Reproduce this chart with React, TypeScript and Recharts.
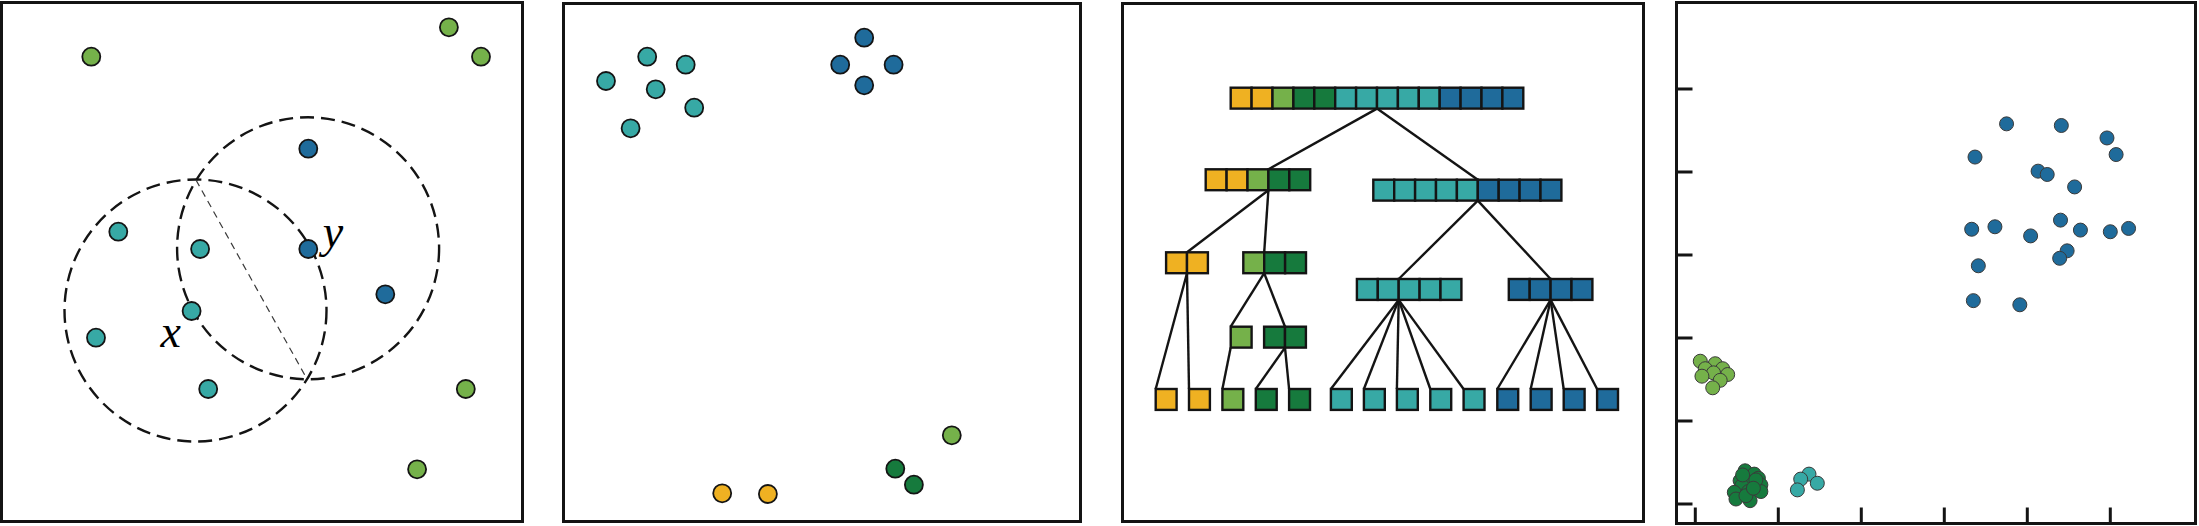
import React from 'react';
import { ScatterChart, Scatter, XAxis, YAxis } from 'recharts';

// ---------- palette keys ----------
const COLORS: Record<string, string> = {
  Y: '#EFB122',
  LG: '#75B14A',
  DG: '#167A3D',
  T: '#37A9A5',
  B: '#1F6B9B',
};
const INK = '#141414';

// ---------- panel A : neighbourhood illustration (panel-local units) ----------
const panelAGreen = [
  { x: 91.3, y: 55.7 }, { x: 448.9, y: 26.3 }, { x: 481.0, y: 55.7 },
  { x: 465.8, y: 388 }, { x: 417.1, y: 468.3 },
];
const panelATeal = [
  { x: 118.3, y: 230.7 }, { x: 200.1, y: 248 }, { x: 191.6, y: 310 },
  { x: 96.0, y: 336.7 }, { x: 208.2, y: 388 },
];
const panelABlue = [
  { x: 308.3, y: 147.7 }, { x: 308.3, y: 248 }, { x: 385.3, y: 293.3 },
];
const panelARings = [
  { x: 195.5, y: 309.5, r: 131 },
  { x: 308.1, y: 247.3, r: 131 },
];
const panelAChord = [{ x: 196, y: 179 }, { x: 306.6, y: 377.3 }];
const panelALabels = [
  { x: 170.7, y: 345.7, text: 'x' },
  { x: 333, y: 246, text: 'y' },
];

// ---------- panel B : clustered points ----------
const panelBTeal = [
  { x: 85.2, y: 54.7 }, { x: 123.7, y: 62.7 }, { x: 44.0, y: 79 },
  { x: 93.7, y: 87.3 }, { x: 132.2, y: 105.7 }, { x: 68.6, y: 126.3 },
];
const panelBBlue = [
  { x: 302.2, y: 35.7 }, { x: 278.2, y: 62.7 }, { x: 331.6, y: 62.7 }, { x: 302.2, y: 83.3 },
];
const panelBLightGreen = [{ x: 389.8, y: 433.3 }];
const panelBDarkGreen = [{ x: 333.3, y: 466.7 }, { x: 351.9, y: 482.7 }];
const panelBYellow = [{ x: 160.2, y: 491.3 }, { x: 205.9, y: 492 }];

// ---------- panel C : hierarchy tree ----------
const CELL = 20.9;
const treeNodes = [
  { id: 'root', x: 109.7, y: 85.7, split: 7, colors: ['Y', 'Y', 'LG', 'DG', 'DG', 'T', 'T', 'T', 'T', 'T', 'B', 'B', 'B', 'B'] },
  { id: 'L', x: 84.7, y: 167.3, split: 3, colors: ['Y', 'Y', 'LG', 'DG', 'DG'] },
  { id: 'R', x: 252.3, y: 177.7, split: 5, colors: ['T', 'T', 'T', 'T', 'T', 'B', 'B', 'B', 'B'] },
  { id: 'LY', x: 45.1, y: 250.3, split: 1, colors: ['Y', 'Y'] },
  { id: 'LG', x: 122.3, y: 250.3, split: 1, colors: ['LG', 'DG', 'DG'] },
  { id: 'RT', x: 235.9, y: 277, split: 2, colors: ['T', 'T', 'T', 'T', 'T'] },
  { id: 'RB', x: 387.8, y: 277, split: 2, colors: ['B', 'B', 'B', 'B'] },
  { id: 'LGa', x: 109.7, y: 324.7, split: 0, colors: ['LG'] },
  { id: 'LGb', x: 143.1, y: 324.7, split: 1, colors: ['DG', 'DG'] },
];
const leafX = [34.7, 68, 101.4, 134.8, 168.1, 209.9, 242.9, 275.9, 309.3, 342.6, 376.3, 409.7, 442.7, 476.1];
const leafColors = ['Y', 'Y', 'LG', 'DG', 'DG', 'T', 'T', 'T', 'T', 'T', 'B', 'B', 'B', 'B'];
const leafY = 387;
const treeEdges: [string, string][] = [
  ['root', 'L'], ['root', 'R'],
  ['L', 'LY'], ['L', 'LG'],
  ['R', 'RT'], ['R', 'RB'],
  ['LY', 'f0'], ['LY', 'f1'],
  ['LG', 'LGa'], ['LG', 'LGb'],
  ['LGa', 'f2'], ['LGb', 'f3'], ['LGb', 'f4'],
  ['RT', 'f5'], ['RT', 'f6'], ['RT', 'f7'], ['RT', 'f8'], ['RT', 'f9'],
  ['RB', 'f10'], ['RB', 'f11'], ['RB', 'f12'], ['RB', 'f13'],
];

// ---------- panel D : embedding scatter (axis units) ----------
const panelDTicks = [0, 1, 2, 3, 4, 5];
const panelDBlue = [
  { x: 3.75, y: 4.58 }, { x: 4.41, y: 4.56 }, { x: 4.96, y: 4.41 }, { x: 3.37, y: 4.18 },
  { x: 5.07, y: 4.21 }, { x: 4.13, y: 4.01 }, { x: 4.24, y: 3.97 }, { x: 4.57, y: 3.82 },
  { x: 4.40, y: 3.42 }, { x: 3.33, y: 3.31 }, { x: 3.61, y: 3.34 }, { x: 4.04, y: 3.23 },
  { x: 4.64, y: 3.30 }, { x: 5.00, y: 3.28 }, { x: 5.22, y: 3.32 }, { x: 4.48, y: 3.05 },
  { x: 4.39, y: 2.96 }, { x: 3.41, y: 2.87 }, { x: 3.35, y: 2.45 }, { x: 3.91, y: 2.40 },
];
const panelDLightGreen = [
  { x: 0.06, y: 1.72 }, { x: 0.24, y: 1.69 }, { x: 0.12, y: 1.63 }, { x: 0.33, y: 1.63 },
  { x: 0.22, y: 1.58 }, { x: 0.39, y: 1.56 }, { x: 0.08, y: 1.54 }, { x: 0.30, y: 1.49 },
  { x: 0.21, y: 1.40 },
];
const panelDDarkGreen = [
  { x: 0.60, y: 0.40 }, { x: 0.71, y: 0.36 }, { x: 0.76, y: 0.31 }, { x: 0.54, y: 0.28 },
  { x: 0.67, y: 0.25 }, { x: 0.79, y: 0.23 }, { x: 0.56, y: 0.22 }, { x: 0.64, y: 0.15 },
  { x: 0.47, y: 0.14 }, { x: 0.79, y: 0.15 }, { x: 0.49, y: 0.06 }, { x: 0.66, y: 0.04 },
  { x: 0.61, y: 0.10 }, { x: 0.73, y: 0.29 }, { x: 0.57, y: 0.35 }, { x: 0.70, y: 0.19 },
];
const panelDTeal = [
  { x: 1.37, y: 0.36 }, { x: 1.27, y: 0.30 }, { x: 1.47, y: 0.25 }, { x: 1.23, y: 0.17 },
];

// ---------- frames ----------
const FRAMES = [
  { left: 0, top: 1, width: 524, height: 522 },
  { left: 562, top: 2, width: 520, height: 521 },
  { left: 1121, top: 2, width: 524, height: 521 },
  { left: 1675, top: 1, width: 522, height: 524 },
];
const BORDER = 3;
const TICK_LEN = 16;

// ---------- shapes ----------
const dotShape = (r: number, stroke: string, sw: number) => (p: any) => (
  <circle cx={p.cx} cy={p.cy} r={r} fill={p.fill} stroke={stroke} strokeWidth={sw} />
);
const ringShape = (p: any) => (
  <circle cx={p.cx} cy={p.cy} r={p.payload.r} fill="none" stroke={INK} strokeWidth={2.4} strokeDasharray="14 7" />
);
const labelShape = (p: any) => (
  <text x={p.cx} y={p.cy} textAnchor="middle" fontFamily="'Liberation Serif', 'DejaVu Serif', serif" fontStyle="italic" fontSize={46} fill="#000">
    {p.payload.text}
  </text>
);
const cellShape = (p: any) => (
  <rect x={p.cx - CELL / 2} y={p.cy - CELL / 2} width={CELL} height={CELL} fill={COLORS[p.payload.c]} stroke={INK} strokeWidth={2.4} />
);
const noShape = () => <g />;

function Frame({ f }: { f: { left: number; top: number; width: number; height: number } }) {
  return (
    <div
      style={{
        position: 'absolute', left: 0, top: 0, width: f.width, height: f.height,
        border: `${BORDER}px solid ${INK}`, boxSizing: 'border-box', pointerEvents: 'none',
      }}
    />
  );
}

function localAxes(w: number, h: number) {
  return [
    <XAxis key="x" type="number" dataKey="x" domain={[0, w]} hide allowDataOverflow />,
    <YAxis key="y" type="number" dataKey="y" domain={[0, h]} reversed hide allowDataOverflow />,
  ];
}

function PanelA() {
  const f = FRAMES[0];
  return (
    <div style={{ position: 'absolute', left: f.left, top: f.top, width: f.width, height: f.height }}>
      <ScatterChart width={f.width} height={f.height} margin={{ top: 0, right: 0, bottom: 0, left: 0 }}>
        {localAxes(f.width, f.height)}
        <Scatter data={panelARings} shape={ringShape} isAnimationActive={false} />
        <Scatter data={panelAChord} shape={noShape} line={{ stroke: '#3a3a3a', strokeWidth: 1.2, strokeDasharray: '7 5' }} isAnimationActive={false} />
        <Scatter data={panelAGreen} fill={COLORS.LG} shape={dotShape(9, INK, 1.8)} isAnimationActive={false} />
        <Scatter data={panelATeal} fill={COLORS.T} shape={dotShape(9, INK, 1.8)} isAnimationActive={false} />
        <Scatter data={panelABlue} fill={COLORS.B} shape={dotShape(9, INK, 1.8)} isAnimationActive={false} />
        <Scatter data={panelALabels} shape={labelShape} isAnimationActive={false} />
      </ScatterChart>
      <Frame f={f} />
    </div>
  );
}

function PanelB() {
  const f = FRAMES[1];
  const groups = [
    { d: panelBTeal, c: COLORS.T },
    { d: panelBBlue, c: COLORS.B },
    { d: panelBLightGreen, c: COLORS.LG },
    { d: panelBDarkGreen, c: COLORS.DG },
    { d: panelBYellow, c: COLORS.Y },
  ];
  return (
    <div style={{ position: 'absolute', left: f.left, top: f.top, width: f.width, height: f.height }}>
      <ScatterChart width={f.width} height={f.height} margin={{ top: 0, right: 0, bottom: 0, left: 0 }}>
        {localAxes(f.width, f.height)}
        {groups.map((g, i) => (
          <Scatter key={i} data={g.d} fill={g.c} shape={dotShape(9, INK, 1.8)} isAnimationActive={false} />
        ))}
      </ScatterChart>
      <Frame f={f} />
    </div>
  );
}

function PanelC() {
  const f = FRAMES[2];
  const nodes: Record<string, { x: number; y: number; split: number; colors: string[] }> = {};
  treeNodes.forEach((n) => { nodes[n.id] = n; });
  leafX.forEach((x, i) => { nodes['f' + i] = { x, y: leafY, split: 0, colors: [leafColors[i]] }; });
  const cells = Object.values(nodes).flatMap((n) =>
    n.colors.map((c, i) => ({ x: n.x + (i + 0.5) * CELL, y: n.y + CELL / 2, c })),
  );
  const segments = treeEdges.map(([a, b]) => {
    const p = nodes[a];
    const q = nodes[b];
    return [
      { x: p.x + p.split * CELL, y: p.y + CELL },
      { x: q.x + q.split * CELL, y: q.y },
    ];
  });
  return (
    <div style={{ position: 'absolute', left: f.left, top: f.top, width: f.width, height: f.height }}>
      <ScatterChart width={f.width} height={f.height} margin={{ top: 0, right: 0, bottom: 0, left: 0 }}>
        {localAxes(f.width, f.height)}
        {segments.map((s, i) => (
          <Scatter key={'e' + i} data={s} shape={noShape} line={{ stroke: INK, strokeWidth: 2.4 }} isAnimationActive={false} />
        ))}
        <Scatter data={cells} shape={cellShape} isAnimationActive={false} />
      </ScatterChart>
      <Frame f={f} />
    </div>
  );
}

function PanelD() {
  const f = FRAMES[3];
  const groups = [
    { d: panelDBlue, c: COLORS.B },
    { d: panelDLightGreen, c: COLORS.LG },
    { d: panelDDarkGreen, c: COLORS.DG },
    { d: panelDTeal, c: COLORS.T },
  ];
  const m = BORDER / 2;
  const bottom = f.height - m;
  const xTick = (p: any) => (
    <line x1={p.x} x2={p.x} y1={bottom + m} y2={bottom - TICK_LEN} stroke={INK} strokeWidth={3} />
  );
  const yTick = (p: any) => (
    <line x1={0} x2={m + TICK_LEN} y1={p.y} y2={p.y} stroke={INK} strokeWidth={3} />
  );
  return (
    <div style={{ position: 'absolute', left: f.left, top: f.top, width: f.width, height: f.height }}>
      <ScatterChart width={f.width} height={f.height} margin={{ top: m, right: m, bottom: m, left: m }}>
        <XAxis
          type="number" dataKey="x" domain={[-0.2265, 6.0265]} ticks={panelDTicks} interval={0}
          allowDataOverflow mirror tick={xTick} tickLine={false} axisLine={false}
        />
        <YAxis
          type="number" dataKey="y" domain={[-0.235, 6.042]} ticks={panelDTicks} interval={0}
          allowDataOverflow mirror tick={yTick} tickLine={false} axisLine={false}
        />
        {groups.map((g, i) => (
          <Scatter key={i} data={g.d} fill={g.c} shape={dotShape(7, '#3a3a3a', 1)} isAnimationActive={false} />
        ))}
      </ScatterChart>
      <Frame f={f} />
    </div>
  );
}

export default function App() {
  return (
    <div style={{ position: 'absolute', left: 0, top: 0, width: 2199, height: 526, background: '#fff', overflow: 'hidden' }}>
      <PanelA />
      <PanelB />
      <PanelC />
      <PanelD />
    </div>
  );
}
